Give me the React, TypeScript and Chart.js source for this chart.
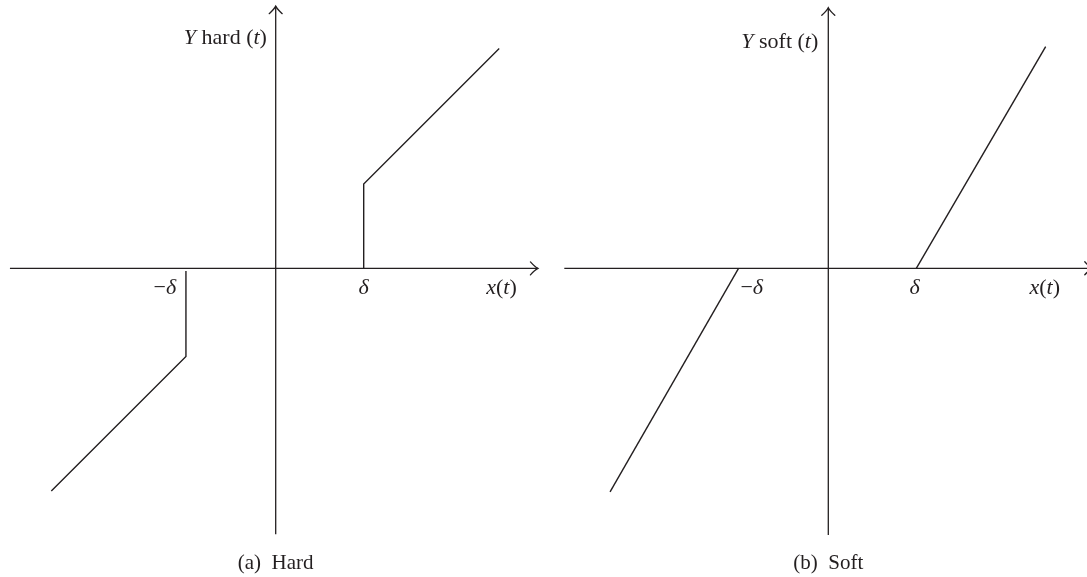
import React, { useEffect, useRef } from 'react';
import { Chart, registerables } from 'chart.js';

Chart.register(...registerables);

// ---- data (units of delta) ----
const hardPosX = [1, 1, 2.54];
const hardPosY = [0, 0.96, 2.5];
const hardNegX = [-1.02, -1.02, -2.55];
const hardNegY = [-0.03, -1, -2.53];

const softPosX = [1, 2.47];
const softPosY = [0, 2.52];
const softNegX = [-1.02, -2.48];
const softNegY = [0, -2.54];

const axisHardX = [-3.02, 2.98];
const axisHardY = [-3.02, 2.98];
const axisSoftX = [-3.0, 3.0];
const axisSoftY = [-3.03, 2.96];

const tickValues = [-1, 1];
const tickLabels = ['−δ', 'δ'];
const xAxisLabelPos = 2.5;
const yNames = ['hard', 'soft'];
const captions = ['(a)  Hard', '(b)  Soft'];

const INK = '#231f20';
const FONT = '"Liberation Serif", "Times New Roman", serif';
const FS_LABEL = 22;
const FS_CAPTION = 21;

type Run = { t: string; i: boolean };

function drawRuns(
  ctx: CanvasRenderingContext2D,
  runs: Run[],
  x: number,
  y: number,
  align: 'center' | 'right' | 'left',
  fs: number
) {
  const widths = runs.map((r) => {
    ctx.font = `${r.i ? 'italic ' : ''}${fs}px ${FONT}`;
    return ctx.measureText(r.t).width;
  });
  const total = widths.reduce((a, b) => a + b, 0);
  let cx = align === 'center' ? x - total / 2 : align === 'right' ? x - total : x;
  ctx.textAlign = 'left';
  ctx.textBaseline = 'alphabetic';
  ctx.fillStyle = INK;
  runs.forEach((r, k) => {
    ctx.font = `${r.i ? 'italic ' : ''}${fs}px ${FONT}`;
    ctx.fillText(r.t, cx, y);
    cx += widths[k];
  });
}

function tickRuns(label: string): Run[] {
  if (label.startsWith('−')) return [{ t: '−', i: false }, { t: label.slice(1), i: true }];
  return [{ t: label, i: true }];
}

const xLabelRuns: Run[] = [
  { t: 'x', i: true },
  { t: '(', i: false },
  { t: 't', i: true },
  { t: ')', i: false },
];

type PanelCfg = {
  left: number;
  width: number;
  xMin: number;
  xMax: number;
  yMin: number;
  yMax: number;
  axisX: number[];
  axisY: number[];
  branches: { x: number[]; y: number[] }[];
  tickOffsets: number[];
  xLabelOffset: number;
  tickBaseline: number;
  yLabelX: number;
  yLabelBaseline: number;
  yName: string;
  caption: string;
  captionBaseline: number;
};

const panels: PanelCfg[] = [
  {
    left: 0,
    width: 544,
    xMin: -3.133,
    xMax: 3.0489,
    yMin: -3.5068,
    yMax: 3.05,
    axisX: axisHardX,
    axisY: axisHardY,
    branches: [
      { x: hardPosX, y: hardPosY },
      { x: hardNegX, y: hardNegY },
    ],
    tickOffsets: [-0.26, 0],
    xLabelOffset: 0.066,
    tickBaseline: -0.29,
    yLabelX: -0.1,
    yLabelBaseline: 2.547,
    yName: yNames[0],
    caption: captions[0],
    captionBaseline: -3.42,
  },
  {
    left: 544,
    width: 543,
    xMin: -3.2307,
    xMax: 2.9398,
    yMin: -3.508,
    yMax: 3.0489,
    axisX: axisSoftX,
    axisY: axisSoftY,
    branches: [
      { x: softPosX, y: softPosY },
      { x: softNegX, y: softNegY },
    ],
    tickOffsets: [0.13, -0.02],
    xLabelOffset: -0.04,
    tickBaseline: -0.29,
    yLabelX: -0.114,
    yLabelBaseline: 2.508,
    yName: yNames[1],
    caption: captions[1],
    captionBaseline: -3.42,
  },
];

function makePlugin(cfg: PanelCfg) {
  return {
    id: 'decor',
    afterDatasetsDraw(chart: any) {
      const ctx: CanvasRenderingContext2D = chart.ctx;
      const xs = chart.scales.x;
      const ys = chart.scales.y;
      const px = (v: number) => xs.getPixelForValue(v);
      const py = (v: number) => ys.getPixelForValue(v);
      ctx.save();
      // arrowheads
      ctx.strokeStyle = INK;
      ctx.lineWidth = 1.3;
      ctx.lineCap = 'round';
      const tx = px(cfg.axisX[1]);
      const ty = py(0);
      ctx.beginPath();
      ctx.moveTo(tx - 7.5, ty - 6.5);
      ctx.quadraticCurveTo(tx - 3, ty - 1.5, tx, ty);
      ctx.quadraticCurveTo(tx - 3, ty + 1.5, tx - 7.5, ty + 6.5);
      ctx.stroke();
      const ux = px(0);
      const uy = py(cfg.axisY[1]);
      ctx.beginPath();
      ctx.moveTo(ux - 6.5, uy + 7.5);
      ctx.quadraticCurveTo(ux - 1.5, uy + 3, ux, uy);
      ctx.quadraticCurveTo(ux + 1.5, uy + 3, ux + 6.5, uy + 7.5);
      ctx.stroke();

      // tick labels
      tickValues.forEach((v, k) => {
        drawRuns(ctx, tickRuns(tickLabels[k]), px(v + cfg.tickOffsets[k]), py(cfg.tickBaseline), 'center', FS_LABEL);
      });
      drawRuns(ctx, xLabelRuns, px(xAxisLabelPos + cfg.xLabelOffset), py(cfg.tickBaseline), 'center', FS_LABEL);
      // y label
      drawRuns(
        ctx,
        [
          { t: 'Y', i: true },
          { t: ` ${cfg.yName} (`, i: false },
          { t: 't', i: true },
          { t: ')', i: false },
        ],
        px(cfg.yLabelX),
        py(cfg.yLabelBaseline),
        'right',
        FS_LABEL
      );
      // caption
      drawRuns(ctx, [{ t: cfg.caption, i: false }], px(0), py(cfg.captionBaseline), 'center', FS_CAPTION);
      ctx.restore();
    },
  };
}

function Panel({ cfg }: { cfg: PanelCfg }) {
  const ref = useRef<HTMLCanvasElement>(null);
  useEffect(() => {
    const line = (pts: { x: number; y: number }[], w: number) => ({
      data: pts,
      showLine: true,
      borderColor: INK,
      borderWidth: w,
      pointRadius: 0,
      pointHoverRadius: 0,
      fill: false,
      tension: 0,
    });
    const datasets: any[] = [
      line(cfg.axisX.map((x) => ({ x, y: 0 })), 1.3),
      line(cfg.axisY.map((y) => ({ x: 0, y })), 1.3),
      ...cfg.branches.map((b) => line(b.x.map((x, i) => ({ x, y: b.y[i] })), 1.4)),
    ];
    const chart = new Chart(ref.current as HTMLCanvasElement, {
      type: 'scatter',
      data: { datasets },
      options: {
        animation: false,
        responsive: false,
        maintainAspectRatio: false,
        events: [],
        layout: { padding: 0 },
        plugins: { legend: { display: false }, tooltip: { enabled: false } },
        scales: {
          x: { type: 'linear', min: cfg.xMin, max: cfg.xMax, display: false },
          y: { type: 'linear', min: cfg.yMin, max: cfg.yMax, display: false },
        },
      },
      plugins: [makePlugin(cfg)],
    } as any);
    return () => chart.destroy();
  }, [cfg]);
  return (
    <canvas
      ref={ref}
      width={cfg.width}
      height={577}
      style={{ position: 'absolute', left: cfg.left, top: 0, width: cfg.width, height: 577 }}
    />
  );
}

export default function App() {
  return (
    <div style={{ position: 'absolute', left: 0, top: 0, width: 1087, height: 577, overflow: 'hidden', background: '#fff' }}>
      {panels.map((p, i) => (
        <Panel key={i} cfg={p} />
      ))}
    </div>
  );
}
